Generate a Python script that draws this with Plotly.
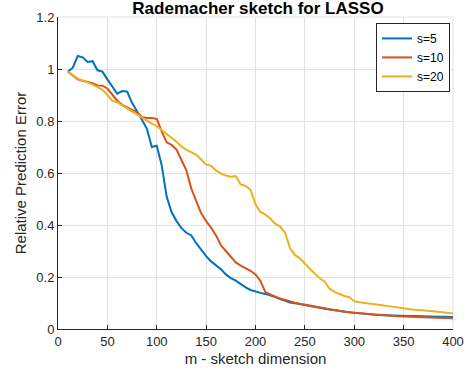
import plotly.graph_objects as go

m_values = list(range(10, 401, 5))

err_s5 = [0.99, 1.005, 1.05, 1.045, 1.027, 1.03, 0.995, 0.99, 0.96, 0.93,
          0.905, 0.915, 0.913, 0.87, 0.84, 0.805, 0.77, 0.70, 0.705, 0.63,
          0.51, 0.45, 0.415, 0.388, 0.37, 0.36, 0.33, 0.305, 0.28, 0.26,
          0.245, 0.23, 0.21, 0.196, 0.186, 0.172, 0.16, 0.15, 0.143, 0.139,
          0.135, 0.13, 0.123, 0.115, 0.107, 0.102, 0.099, 0.096, 0.091, 0.088,
          0.085, 0.082, 0.078, 0.075, 0.071, 0.068, 0.066, 0.064, 0.062, 0.06,
          0.058, 0.056, 0.055, 0.054, 0.053, 0.052, 0.052, 0.051, 0.051, 0.05,
          0.05, 0.049, 0.049, 0.048, 0.048, 0.047, 0.047, 0.046, 0.046]

err_s10 = [0.99, 0.975, 0.96, 0.955, 0.951, 0.945, 0.937, 0.936, 0.925, 0.9,
           0.878, 0.862, 0.852, 0.842, 0.833, 0.815, 0.812, 0.812, 0.808, 0.76,
           0.718, 0.708, 0.69, 0.65, 0.61, 0.54, 0.49, 0.445, 0.415, 0.39,
           0.36, 0.322, 0.30, 0.28, 0.256, 0.244, 0.235, 0.224, 0.21, 0.185,
           0.142, 0.132, 0.124, 0.117, 0.111, 0.106, 0.101, 0.097, 0.094, 0.091,
           0.088, 0.085, 0.08, 0.076, 0.072, 0.068, 0.066, 0.064, 0.062, 0.06,
           0.058, 0.057, 0.056, 0.055, 0.053, 0.052, 0.05, 0.049, 0.048, 0.047,
           0.046, 0.045, 0.044, 0.044, 0.043, 0.043, 0.042, 0.042, 0.041]

err_s20 = [0.99, 0.975, 0.963, 0.956, 0.949, 0.94, 0.93, 0.92, 0.9, 0.877,
           0.872, 0.86, 0.848, 0.837, 0.826, 0.813, 0.8, 0.79, 0.78, 0.765,
           0.752, 0.738, 0.72, 0.702, 0.689, 0.68, 0.67, 0.652, 0.632, 0.628,
           0.61, 0.598, 0.59, 0.586, 0.588, 0.556, 0.55, 0.535, 0.48, 0.45,
           0.44, 0.425, 0.405, 0.394, 0.37, 0.31, 0.284, 0.272, 0.25, 0.232,
           0.213, 0.195, 0.183, 0.155, 0.143, 0.134, 0.127, 0.122, 0.107, 0.103,
           0.1, 0.098, 0.095, 0.092, 0.09, 0.088, 0.085, 0.082, 0.079, 0.077,
           0.074, 0.073, 0.072, 0.07, 0.068, 0.066, 0.064, 0.062, 0.06]

series = [("s=5", err_s5, "#0072BD"),
          ("s=10", err_s10, "#D95319"),
          ("s=20", err_s20, "#EDB120")]

x_ticks = [0, 50, 100, 150, 200, 250, 300, 350, 400]
y_ticks = [0, 0.2, 0.4, 0.6, 0.8, 1.0, 1.2]
y_tick_text = ["0", "0.2", "0.4", "0.6", "0.8", "1", "1.2"]

FONT = "Liberation Sans, Arial, Helvetica, sans-serif"
AX = "#262626"
GRID = "#e3e3e3"

W, H = 474, 376

fig = go.Figure()
for name, vals, col in series:
    fig.add_trace(go.Scatter(x=m_values, y=vals, mode="lines", name=name,
                             line=dict(color=col, width=2)))

fig.update_layout(
    width=W, height=H,
    margin=dict(l=58, r=21, t=17, b=47, autoexpand=False),
    paper_bgcolor="white", plot_bgcolor="white",
    font=dict(family=FONT, size=13, color=AX),
    title=dict(text="<b>Rademacher sketch for LASSO</b>", x=258 / W,
               xanchor="center", y=1 - 8 / H, yanchor="middle",
               font=dict(size=17, color="#000000")),
    showlegend=True,
    legend=dict(x=0.805, y=0.981, xanchor="left", yanchor="top",
                bgcolor="white", bordercolor="#262626", borderwidth=1,
                font=dict(size=12, color="#000000"),
                tracegroupgap=0, itemwidth=30),
)
fig.update_xaxes(
    range=[0, 400], tickvals=x_ticks, ticktext=[str(v) for v in x_ticks],
    showgrid=True, gridcolor=GRID, gridwidth=1,
    showline=True, linecolor=AX, linewidth=1,
    ticks="inside", ticklen=4, tickcolor=AX, zeroline=False,
    title=dict(text="m - sketch dimension", font=dict(size=15, color=AX), standoff=5),
    tickfont=dict(size=13, color=AX), automargin=False,
)
fig.update_yaxes(
    range=[0, 1.2], tickvals=y_ticks, ticktext=y_tick_text,
    showgrid=True, gridcolor=GRID, gridwidth=1,
    showline=True, linecolor=AX, linewidth=1,
    ticks="inside", ticklen=4, tickcolor=AX, zeroline=False,
    title=dict(text="Relative Prediction Error", font=dict(size=15, color=AX), standoff=6),
    tickfont=dict(size=13, color=AX), automargin=False,
)
fig.add_shape(type="line", xref="paper", yref="paper", x0=0, x1=1, y0=1, y1=1,
              line=dict(color=GRID, width=1), layer="below")
fig.add_shape(type="line", xref="paper", yref="paper", x0=1, x1=1, y0=0, y1=1,
              line=dict(color=GRID, width=1), layer="below")

fig.write_html("out.html", config={"displayModeBar": False},
               post_script="document.body.style.margin='0';document.body.style.overflow='hidden';")
